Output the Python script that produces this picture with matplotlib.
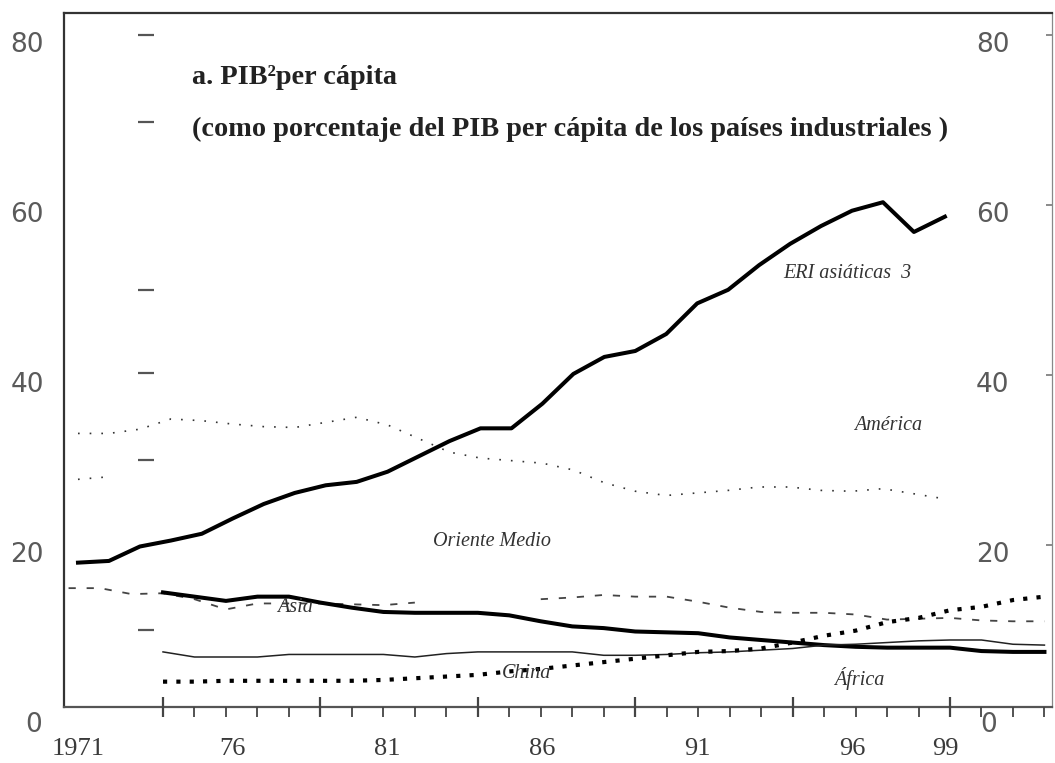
import matplotlib
matplotlib.use("Agg")
import matplotlib.pyplot as plt
import matplotlib.transforms as mtransforms
from matplotlib.ticker import FixedLocator
import numpy as np

# ---------------- data ----------------
# Upper group (own x scale: labels 1971 ... 99)
years_a = list(range(1971, 2000))
eri = [19.1, 19.3, 21.0, 21.7, 22.5, 24.3, 26.0, 27.3, 28.2, 28.6,
       29.8, 31.6, 33.4, 34.9, 34.9, 37.8, 41.3, 43.3, 44.0, 46.0,
       49.6, 51.2, 54.1, 56.6, 58.7, 60.5, 61.5, 58.0, 59.8]
america = [34.3, 34.3, 34.8, 36.0, 35.8, 35.4, 35.1, 35.0, 35.6, 36.2,
           35.3, 33.7, 32.1, 31.4, 31.1, 30.8, 30.0, 28.5, 27.5, 27.0,
           27.3, 27.6, 28.0, 28.0, 27.6, 27.5, 27.8, 27.2, 26.6]
om_years_a = [1971, 1972]
om_frag = [28.9, 29.2]

# Lower group (own x scale, tick marks every year from 1974)
years_b_full = list(range(1971, 2003))
oriente = [16.1, 16.1, 15.4, 15.5, 14.8, 13.6, 14.3, 14.3, 14.3, 14.2,
           14.1, 14.4, np.nan, np.nan, np.nan, 14.8, 15.0, 15.3, 15.1, 15.1,
           14.5, 13.8, 13.3, 13.2, 13.2, 13.0, 12.4, 12.5, 12.6, 12.3,
           12.2, 12.2]
years_b = list(range(1974, 2003))
asia = [15.6, 15.1, 14.6, 15.1, 15.1, 14.4, 13.8, 13.3, 13.2, 13.2,
        13.2, 12.9, 12.2, 11.6, 11.4, 11.0, 10.9, 10.8, 10.3, 10.0,
        9.7, 9.4, 9.2, 9.1, 9.1, 9.1, 8.7, 8.6, 8.6]
africa = [8.6, 8.0, 8.0, 8.0, 8.3, 8.3, 8.3, 8.3, 8.0, 8.4,
          8.6, 8.6, 8.6, 8.6, 8.2, 8.2, 8.3, 8.5, 8.6, 8.8,
          9.0, 9.4, 9.5, 9.7, 9.9, 10.0, 10.0, 9.5, 9.4]
china = [5.1, 5.1, 5.2, 5.2, 5.2, 5.2, 5.2, 5.3, 5.5, 5.7,
         5.9, 6.3, 6.6, 7.0, 7.4, 7.8, 8.2, 8.6, 8.7, 9.0,
         9.7, 10.5, 11.1, 12.1, 12.6, 13.5, 13.9, 14.7, 15.1]

x_label_years = [1971, 1976, 1981, 1986, 1991, 1996, 1999]
x_label_text = ["1971", "76", "81", "86", "91", "96", "99"]
y_label_vals = [80, 60, 40, 20, 0]
y_label_text = ["80", "60", "40", "20", "0"]
major_b = [1974, 1979, 1984, 1989, 1994, 1999]
minor_b = list(range(1974, 2003))
stray_ticks = [11.2, 31.2, 41.4, 51.2, 70.9, 81.2]
right_ticks = [21.2, 41.2, 61.2, 81.2]

title1 = "a. PIB\u00b2per cápita"
title2 = "(como porcentaje del PIB per cápita de los países industriales )"

# ---------------- figure ----------------
W, H = 1055, 763
fig = plt.figure(figsize=(W / 100, H / 100), dpi=100)
L, R, T, B = 64, 1052, 13, 707
ax = fig.add_axes([L / W, (H - B) / H, (R - L) / W, (B - T) / H])
ax.set_xlim(1970.548, 2002.46)
ax.set_ylim(2.118, 83.76)

ax2 = ax.twiny()
ax2.set_xlim(1970.855, 2002.24)

# lines
ax.plot(years_a, eri, color="black", lw=2.9, solid_joinstyle="round")
ax.plot(years_a, america, color="#333333", lw=1.2, linestyle=(0, (1, 6)))
ax.plot(om_years_a, om_frag, color="#333333", lw=1.2, linestyle=(0, (1, 6)))

ax2.plot(years_b_full, oriente, color="#444444", lw=1.3, linestyle=(0, (4, 6)))
ax2.plot(years_b, asia, color="black", lw=2.9)
ax2.plot(years_b, africa, color="#222222", lw=1.1)
ax2.plot(years_b, china, color="black", lw=3.0, linestyle=(0, (1, 2.2)))

# spines
for sp, lw, c in [("left", 1.6, "#333333"), ("top", 1.6, "#333333"),
                  ("bottom", 1.6, "#555555"), ("right", 0.9, "#888888")]:
    ax.spines[sp].set_linewidth(lw)
    ax.spines[sp].set_color(c)
for sp in ax2.spines.values():
    sp.set_visible(False)

# x labels (upper group scale)
ax.set_xticks(x_label_years)
ax.set_xticklabels(x_label_text, fontfamily="Liberation Serif", fontsize=19,
                   color="#3a3a3a")
ax.tick_params(axis="x", length=0, pad=22)

# tick marks (lower group scale)
ax2.xaxis.set_ticks_position("bottom")
ax2.xaxis.set_major_locator(FixedLocator(major_b))
ax2.xaxis.set_minor_locator(FixedLocator(minor_b))
ax2.tick_params(axis="x", which="major", direction="inout", length=14,
                width=1.6, color="#444444", labelbottom=False, labeltop=False)
ax2.tick_params(axis="x", which="minor", direction="out", length=7,
                width=1.3, color="#444444")
ax2.set_xticklabels([])

# y labels as text
ax.set_yticks([])
trans_l = mtransforms.blended_transform_factory(ax.transAxes, ax.transData)
yfont = dict(fontfamily=["Liberation Sans Narrow", "DejaVu Sans"], fontsize=19,
             color="#5a5a5a", va="center", ha="center", clip_on=False)
for v, s in zip(y_label_vals, y_label_text):
    xl = -0.0374 if v != 0 else -0.031
    ax.text(xl, v, s, transform=trans_l, **yfont)
    xr = 0.940 if v != 0 else 0.936
    ax.text(xr, v, s, transform=trans_l, **yfont)

# stray tick axis
sec = ax.secondary_yaxis(0.083)
sec.spines["left"].set_visible(False)
sec.set_yticks(stray_ticks)
sec.set_yticklabels([])
sec.tick_params(axis="y", direction="inout", length=12, width=1.6, color="#555555")

secr = ax.secondary_yaxis("right")
secr.spines["right"].set_visible(False)
secr.set_yticks(right_ticks)
secr.set_yticklabels([])
secr.tick_params(axis="y", direction="in", length=4, width=1.2, color="#777777")

# titles
tfont = dict(fontfamily="Liberation Serif", fontweight="bold", fontsize=20.3,
             color="#222222", ha="left", va="center")
fig.text(192 / W, 1 - 77 / H, title1, **tfont)
fig.text(192 / W, 1 - 129 / H, title2, **tfont)

# series labels
lfont = dict(fontfamily="Liberation Serif", style="italic", fontsize=14.5,
             color="#333333", ha="center", va="center")
fig.text(847 / W, 1 - 273 / H, "ERI asiáticas  3", **lfont)
fig.text(888 / W, 1 - 425 / H, "América", **lfont)
fig.text(492 / W, 1 - 541 / H, "Oriente Medio", **lfont)
fig.text(295 / W, 1 - 608 / H, "Asia", **lfont)
fig.text(527 / W, 1 - 674 / H, "China", **lfont)
fig.text(859 / W, 1 - 678 / H, "África", **lfont)

fig.savefig("out.png", dpi=100)
